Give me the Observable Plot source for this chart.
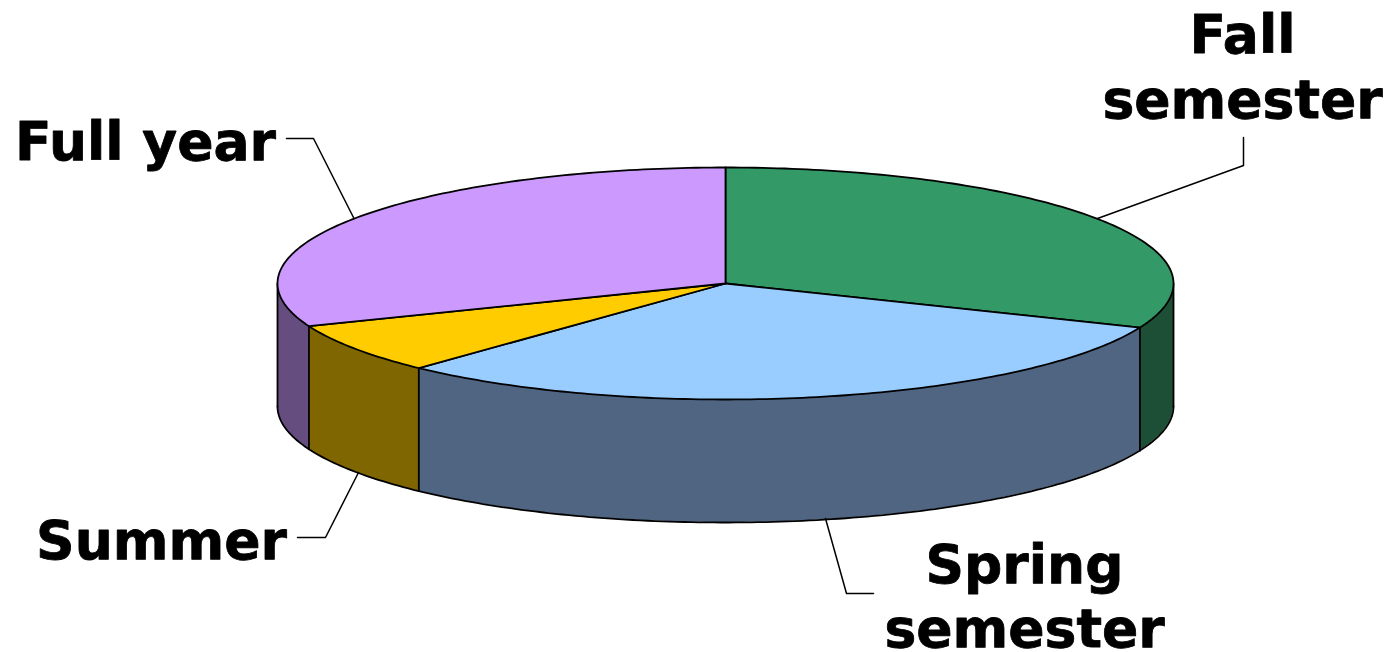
<!DOCTYPE html>
<html><head><meta charset="utf-8">
<script src="https://cdn.jsdelivr.net/npm/d3@7"></script>
<script src="https://cdn.jsdelivr.net/npm/@observablehq/plot@0.6"></script>
<style>html,body{margin:0;padding:0;background:#fff;overflow:hidden}svg{display:block}</style>
</head><body><div id="chart"></div>
<script>
const categories = ["Fall semester", "Spring semester", "Summer", "Full year"];
const shares = [31.2, 30.8, 7, 31];
const topColors = ["#339966", "#99CCFF", "#FFCC00", "#CC99FF"];
const sideColors = ["#1C4F35", "#4F6582", "#806600", "#664D80"];

const W = 1387, H = 652;
const cx = 725, cy = 283, rx = 448, ry = 116, depth = 123;
const pt = a => [cx + rx * Math.sin(a), cy - ry * Math.cos(a)];
const total = d3.sum(shares);
let acc = 0;
const slices = categories.map((name, i) => {
  const a0 = acc / total * 2 * Math.PI; acc += shares[i];
  return {name, a0, a1: acc / total * 2 * Math.PI};
});
const arcAngles = (a0, a1) => { const n = Math.max(8, Math.ceil((a1 - a0) * 60));
  return d3.range(n + 1).map(k => a0 + (a1 - a0) * k / n); };

// top faces: centre -> arc -> centre
const tops = slices.flatMap(s => {
  const c = {name: s.name, x: cx, y: cy};
  return [c, ...arcAngles(s.a0, s.a1).map(a => { const [x, y] = pt(a); return {name: s.name, x, y}; }), c];
});
// visible walls: lower half of the ellipse
const walls = slices.flatMap(s => {
  const a0 = Math.max(s.a0, Math.PI / 2), a1 = Math.min(s.a1, 3 * Math.PI / 2);
  if (a1 <= a0) return [];
  return arcAngles(a0, a1).map(a => { const [x, y] = pt(a); return {name: s.name, x, y, y2: y + depth}; });
});
const wallEdges = [...new Set(slices.flatMap(s => [s.a0, s.a1]))]
  .filter(a => a >= Math.PI / 2 && a <= 3 * Math.PI / 2)
  .flatMap((a, i) => { const [x, y] = pt(a); return [{e: i, x, y}, {e: i, x, y: y + depth}]; });
// right and left rims of the wall
const rims = [Math.PI / 2, 3 * Math.PI / 2].flatMap((a, i) => { const [x, y] = pt(a); return [{e: i, x, y}, {e: i, x, y: y + depth}]; });

const leaders = [
  {k: "Fall semester", x: 1243, y: 137}, {k: "Fall semester", x: 1243, y: 165}, {k: "Fall semester", x: 1097, y: 218},
  {k: "Spring semester", x: 825, y: 518}, {k: "Spring semester", x: 846, y: 593}, {k: "Spring semester", x: 873, y: 593},
  {k: "Summer", x: 358, y: 472}, {k: "Summer", x: 325, y: 537}, {k: "Summer", x: 297, y: 537},
  {k: "Full year", x: 286, y: 138}, {k: "Full year", x: 313, y: 138}, {k: "Full year", x: 353, y: 217}
];
const labels = [
  {t: "Fall", x: 1242, y: 35}, {t: "semester", x: 1242, y: 100},
  {t: "Spring", x: 1024, y: 565}, {t: "semester", x: 1024, y: 629},
  {t: "Summer", x: 161, y: 541}, {t: "Full year", x: 145, y: 142}
];

const plot = Plot.plot({
  width: W, height: H, margin: 0,
  x: {domain: [0, W], range: [0, W], axis: null},
  y: {domain: [0, H], range: [0, H], axis: null},
  color: {domain: [...categories, ...categories.map(c => c + " wall")], range: [...topColors, ...sideColors]},
  style: {background: "#fff"},
  marks: [
    Plot.areaY(walls, {x: "x", y1: "y", y2: "y2", z: "name", fill: d => d.name + " wall", curve: "linear"}),
    Plot.line(walls, {x: "x", y: "y2", z: "name", stroke: "#000", strokeWidth: 1.8}),
    Plot.line(wallEdges, {x: "x", y: "y", z: "e", stroke: "#000", strokeWidth: 1.8}),
    Plot.line(rims, {x: "x", y: "y", z: "e", stroke: "#000", strokeWidth: 1.8}),
    Plot.line(tops, {x: "x", y: "y", z: "name", fill: "name", stroke: "#000", strokeWidth: 1.8}),
    Plot.line(leaders, {x: "x", y: "y", z: "k", stroke: "#000", strokeWidth: 1.5}),
    Plot.text(labels, {x: "x", y: "y", text: "t", fontFamily: "DejaVu Sans", fontWeight: "bold", fontSize: 53.5, fill: "#000", stroke: "#000", strokeWidth: 0.8, textAnchor: "middle", lineAnchor: "middle"})
  ]
});
document.getElementById("chart").append(plot);
</script></body></html>
